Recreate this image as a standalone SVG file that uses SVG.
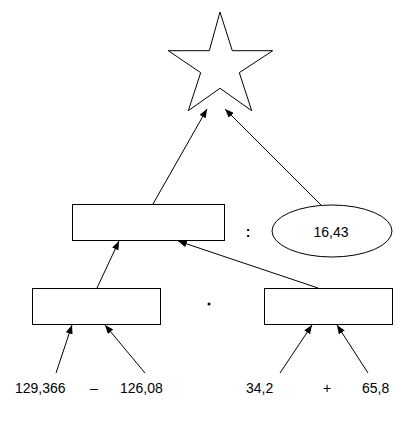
<svg xmlns="http://www.w3.org/2000/svg" width="417" height="445" viewBox="0 0 417 445">
<style>
.shape{fill:#fff;stroke:#000;stroke-width:1}
.conn{stroke:#000;stroke-width:1;fill:none;marker-end:url(#ah)}
text{font-family:"Liberation Sans",Arial,sans-serif;font-size:14px;fill:#000}
.c{text-anchor:middle}
</style>
<defs>
<marker id="ah" viewBox="0 0 10 8" refX="10" refY="4" markerWidth="9" markerHeight="7" orient="auto" markerUnits="userSpaceOnUse">
<path d="M0,0 L10,4 L0,8 Z" fill="#000"/>
</marker>
</defs>
<rect width="417" height="445" fill="#fff"/>
<g id="connectors">
<line class="conn" x1="153" y1="204" x2="207" y2="109"/>
<line class="conn" x1="321" y1="205" x2="225" y2="109"/>
<line class="conn" x1="97" y1="288" x2="119" y2="241"/>
<line class="conn" x1="318" y1="288" x2="178" y2="241"/>
<line class="conn" x1="56" y1="373" x2="72" y2="325"/>
<line class="conn" x1="145" y1="373" x2="105" y2="325"/>
<line class="conn" x1="280" y1="373" x2="312" y2="325"/>
<line class="conn" x1="368" y1="373" x2="337" y2="325"/>
</g>
<g id="star">
<polygon class="shape" points="220,12 232.3,50.7 272.7,50.7 239.3,72.7 251.7,110.7 220,88.3 188.3,110.7 200.7,72.7 168.3,50.7 209.3,50.7"/>
</g>
<g id="box-quotient">
<rect class="shape" x="72.5" y="204.5" width="152" height="36"/>
</g>
<g id="ellipse-divisor">
<ellipse class="shape" cx="332" cy="231" rx="60" ry="26"/>
<text class="c" x="331" y="237">16,43</text>
</g>
<g id="op-divide">
<text class="c" x="248" y="237" font-weight="bold">:</text>
</g>
<g id="box-difference">
<rect class="shape" x="32.5" y="288.5" width="128" height="36"/>
</g>
<g id="op-multiply">
<circle cx="209" cy="304" r="1.5" fill="#000"/>
</g>
<g id="box-sum">
<rect class="shape" x="264.5" y="288.5" width="128" height="36"/>
</g>
<g id="n-129366"><text x="15" y="393">129,366</text></g>
<g id="op-minus"><text class="c" x="94" y="393">–</text></g>
<g id="n-12608"><text x="120" y="393">126,08</text></g>
<g id="n-342"><text x="246" y="393">34,2</text></g>
<g id="op-plus"><text class="c" x="327" y="393">+</text></g>
<g id="n-658"><text x="362" y="393">65,8</text></g>
</svg>
